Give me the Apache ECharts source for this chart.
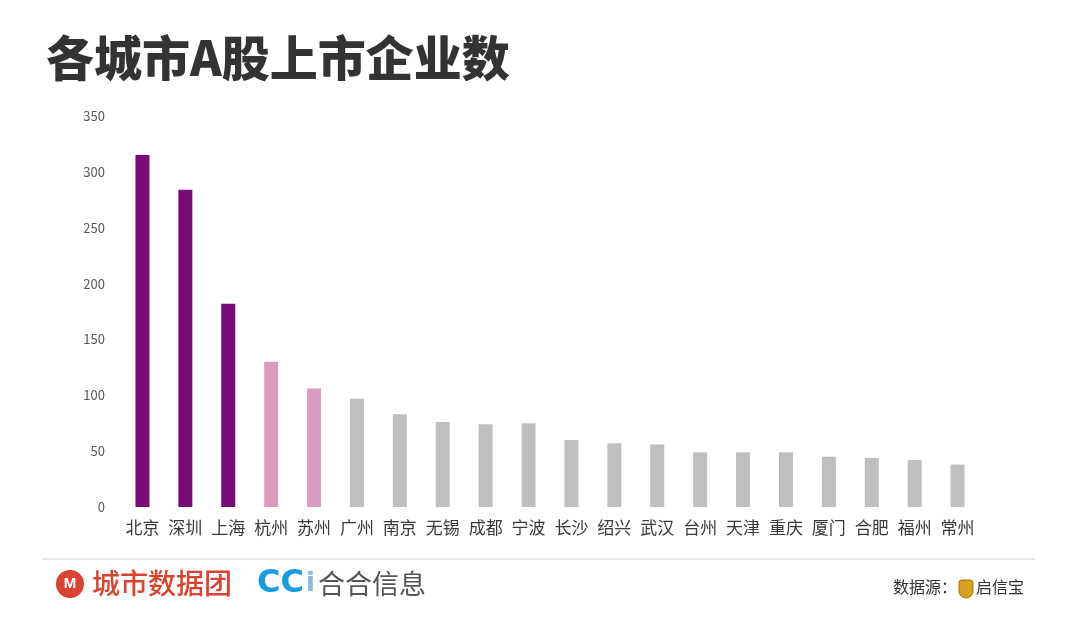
<!DOCTYPE html>
<html><head><meta charset="utf-8">
<script src="https://cdn.jsdelivr.net/npm/echarts@6/dist/echarts.min.js"></script>
<style>html,body{margin:0;padding:0;background:#fff}#c{width:1080px;height:618px}</style>
</head><body><div id="c"></div>
<script>
const categories = ['北京','深圳','上海','杭州','苏州','广州','南京','无锡','成都','宁波','长沙','绍兴','武汉','台州','天津','重庆','厦门','合肥','福州','常州'];
const values = [315,284,182,130,106,97,83,76,74,75,60,57,56,49,49,49,45,44,42,38];
const colorGroups = ['p','p','p','k','k','g','g','g','g','g','g','g','g','g','g','g','g','g','g','g'];
const yTicks = [0,50,100,150,200,250,300,350];
const palette = {p:'#7a0a78', k:'#dd9abf', g:'#bfbfbf'};
const FONT = '"Noto Sans CJK SC","Noto Sans",sans-serif';

const chart = echarts.init(document.getElementById('c'));
chart.setOption({
  backgroundColor:'#fff',
  animation:false,
  grid:{left:121,right:101,top:116,bottom:111,containLabel:false},
  xAxis:{type:'category',data:categories,
    axisLine:{show:false},axisTick:{show:false},
    axisLabel:{color:'#3a3a3a',fontSize:17,fontFamily:FONT,margin:12,interval:0}},
  yAxis:{type:'value',min:yTicks[0],max:yTicks[yTicks.length-1],interval:50,
    splitLine:{show:false},axisLine:{show:false},axisTick:{show:false},
    axisLabel:{color:'#595959',fontSize:13,fontFamily:FONT,margin:16}},
  series:[{type:'bar',barWidth:14,
    data:values.map((v,i)=>({value:v,itemStyle:{color:palette[colorGroups[i]]}}))}],
  graphic:[
    {type:'text',left:46,top:34,style:{text:'各城市A股上市企业数',font:'900 48px "Noto Sans CJK SC",serif',fill:'#333'}},
    {type:'line',shape:{x1:42,y1:559,x2:1035,y2:559},style:{stroke:'#d0d0d0',lineWidth:1}},
    {type:'circle',shape:{cx:70,cy:584,r:14},style:{fill:'#d9432f'}},
    {type:'text',x:70,y:584,style:{text:'M',font:'bold 15px sans-serif',fill:'#fff',align:'center',verticalAlign:'middle'}},
    {type:'text',left:92,top:569,style:{text:'城市数据团',font:'500 28px '+FONT,fill:'#d9432f'}},
    {type:'text',left:257,top:568,style:{text:'CC',font:'900 32px "DejaVu Sans",sans-serif',fill:'#1a9de0'}},
    {type:'text',left:306,top:571,style:{text:'i',font:'bold 26px "DejaVu Sans",sans-serif',fill:'#8fb8d8'}},
    {type:'text',left:318,top:570,style:{text:'合合信息',font:'400 27px '+FONT,fill:'#555'}},
    {type:'text',left:893,top:579,style:{text:'数据源：',font:'400 16px '+FONT,fill:'#333'}},
    {type:'rect',shape:{x:959,y:580,width:14,height:18,r:[3,3,7,7]},style:{fill:'#d9a020',stroke:'#a87010',lineWidth:1}},
    {type:'text',left:976,top:579,style:{text:'启信宝',font:'400 16px '+FONT,fill:'#333'}}
  ]
});
</script></body></html>
